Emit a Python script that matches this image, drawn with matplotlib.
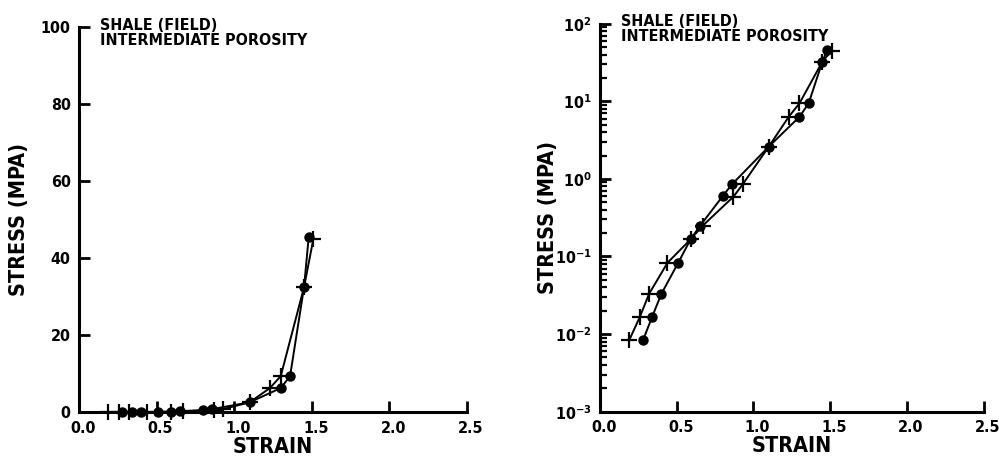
import math
import matplotlib
matplotlib.use("Agg")
import matplotlib.pyplot as plt
import matplotlib.transforms as mtransforms
from matplotlib.ticker import FixedLocator, LogLocator, FuncFormatter, NullFormatter

plt.rcParams['font.family'] = ['DejaVu Sans']
plt.rcParams['font.weight'] = 'bold'
plt.rcParams['font.stretch'] = 'condensed'
plt.rcParams['axes.labelweight'] = 'bold'
plt.rcParams['mathtext.fontset'] = 'custom'
plt.rcParams['mathtext.rm'] = 'DejaVu Sans:bold'
plt.rcParams['mathtext.it'] = 'DejaVu Sans:bold'
plt.rcParams['mathtext.bf'] = 'DejaVu Sans:bold'

# data (strain, stress in MPa)
strain_plus = [0.19, 0.26, 0.32, 0.44, 0.59, 0.67, 0.87, 0.93, 1.10, 1.23, 1.30, 1.45, 1.51]
stress_plus = [0.0083, 0.0167, 0.033, 0.083, 0.166, 0.25, 0.59, 0.85, 2.6, 6.3, 9.4, 32.5, 45.0]

strain_dot = [0.28, 0.34, 0.40, 0.51, 0.59, 0.65, 0.80, 0.86, 1.10, 1.30, 1.36, 1.45, 1.48]
stress_dot = [0.0083, 0.0167, 0.033, 0.083, 0.166, 0.245, 0.60, 0.85, 2.6, 6.3, 9.4, 32.5, 45.5]

x_ticks = [0.0, 0.5, 1.0, 1.5, 2.0, 2.5]
lin_ticks = [0, 20, 40, 60, 80, 100]
log_ticks = [1e-3, 1e-2, 1e-1, 1e0, 1e1, 1e2]

title_lines = "SHALE (FIELD)\nINTERMEDIATE POROSITY"

fig = plt.figure(figsize=(9.99, 4.61), dpi=100)
ax1 = fig.add_axes([79 / 999, 48.7 / 461, 388 / 999, 385 / 461])
ax2 = fig.add_axes([600 / 999, 49.3 / 461, 383.5 / 999, 388 / 461])


def draw(ax):
    ax.plot(strain_plus, stress_plus, color='black', lw=1.4, marker='+',
            ms=11, mew=1.6, zorder=3, clip_on=False)
    ax.plot(strain_dot, stress_dot, color='black', lw=1.4, marker='o',
            ms=6.5, zorder=3, clip_on=False)
    for s in ['top', 'right']:
        ax.spines[s].set_visible(False)
    for s in ['left', 'bottom']:
        ax.spines[s].set_linewidth(2.2)
    ax.set_xlim(0, 2.5)
    ax.xaxis.set_major_locator(FixedLocator(x_ticks))
    ax.set_xticklabels([f"{t:.1f}" for t in x_ticks])
    ax.tick_params(axis='both', which='major', direction='in', length=8,
                   width=2, labelsize=11.5, pad=6)
    ax.tick_params(axis='y', which='minor', direction='in', length=5, width=1.6)
    off = mtransforms.ScaledTranslation(4 / 100, 0, fig.dpi_scale_trans)
    for lab in ax.get_xticklabels():
        lab.set_transform(lab.get_transform() + off)
    ax.set_xlabel("STRAIN", fontsize=15.5, labelpad=1)
    ax.set_ylabel("STRESS (MPA)", fontsize=15.5)
    ax.text(0.055, 1.025, title_lines, transform=ax.transAxes, va='top',
            ha='left', fontsize=11.5, linespacing=1.0)


draw(ax1)
ax1.set_ylim(0, 100)
ax1.yaxis.set_major_locator(FixedLocator(lin_ticks))
ax1.yaxis.set_label_coords(-0.13, 0.5)

draw(ax2)
ax2.set_yscale('log')
ax2.set_ylim(1e-3, 1e2)
ax2.yaxis.set_major_locator(FixedLocator(log_ticks))
ax2.yaxis.set_major_formatter(FuncFormatter(lambda v, p: r"$10^{%d}$" % round(math.log10(v))))
ax2.yaxis.set_minor_locator(LogLocator(base=10, subs=range(2, 10)))
ax2.yaxis.set_minor_formatter(NullFormatter())
ax2.yaxis.set_label_coords(-0.11, 0.5)

fig.savefig("out.png", dpi=100)
